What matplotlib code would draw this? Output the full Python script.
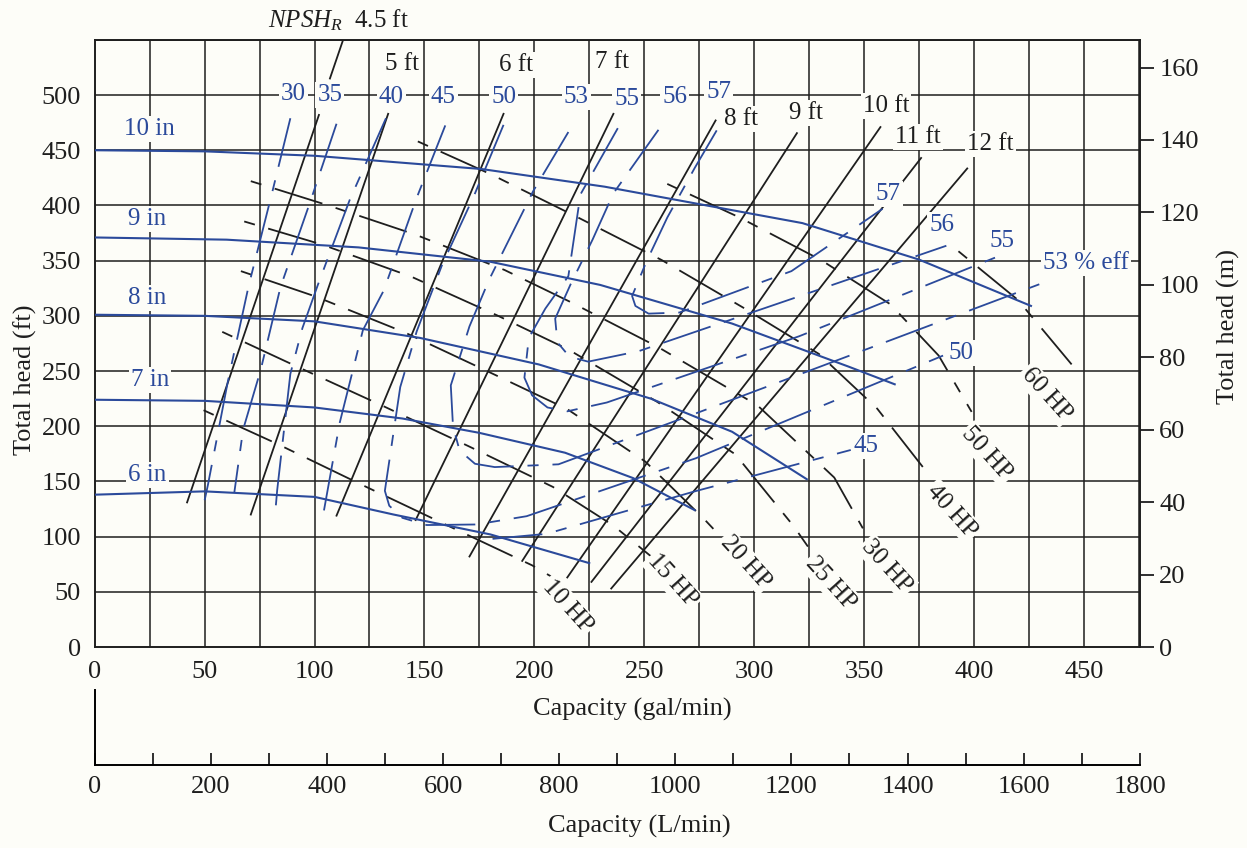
import matplotlib
matplotlib.use('Agg')
import matplotlib.pyplot as plt

plt.rcParams['font.family'] = ['Liberation Serif', 'DejaVu Serif']
plt.rcParams['mathtext.fontset'] = 'custom'
plt.rcParams['mathtext.rm'] = 'Liberation Serif'
plt.rcParams['mathtext.it'] = 'Liberation Serif:italic'
plt.rcParams['lines.scale_dashes'] = False

BLUE = '#2b4a9b'
INK = '#1e1e1e'
BG = '#fdfdf8'

# ---------------- data (capacity gal/min, head ft) ----------------
diam_labels = ['10 in', '9 in', '8 in', '7 in', '6 in']
q_10in = [0, 50, 100, 176, 232, 322, 375, 426]
h_10in = [450, 449, 445, 433, 417, 384, 351, 309]
q_9in = [0, 60, 120, 180, 230, 290, 343, 364]
h_9in = [371, 369, 362, 349, 328, 293, 254, 238]
q_8in = [0, 50, 100, 148, 202, 253, 290, 324]
h_8in = [301, 300, 295, 280, 256, 225, 195, 152]
q_7in = [0, 50, 100, 140, 175, 214, 245, 273]
h_7in = [224, 223, 217, 207, 194, 176, 153, 124]
q_6in = [0, 50, 100, 136, 180, 225]
h_6in = [138, 141, 136, 120, 102, 76]
diam_label_q = [25, 24, 24, 25, 24]
diam_label_h = [469, 388, 316, 242, 156]

# efficiency contours (%)
eff_levels = ['30', '35', '40', '45', '50', '53', '55', '56', '57']
q_e30 = [89, 80.5, 70, 60.5, 51.5, 50]
h_e30 = [479, 410, 327, 240, 147, 133]
q_e35 = [110, 98.5, 84.5, 75.5, 67.5, 63.5]
h_e35 = [474, 406, 326, 251, 197, 140]
q_e40 = [132.5, 116, 101.5, 94.5, 89, 83, 82]
h_e40 = [479, 405, 328, 289, 247.5, 142, 119]
q_e45_left = [159.5, 146.5, 131.5, 122, 111.5, 104]
h_e45_left = [472.5, 407, 323, 287, 203.5, 120.5]
q_e45_right = [181, 205.5, 273, 344]
h_e45_right = [98, 102.5, 141, 178.5]
q_e50 = [186, 172.5, 158, 146.5, 139, 132, 134, 140, 151, 173.5, 196.5, 273.5, 386]
h_e50 = [473, 408.5, 346, 286, 235.5, 141.5, 128, 117, 110.5, 111, 118.5, 171, 264]
q_e53 = [215.5, 199.5, 179.5, 170.5, 162, 163, 166, 173, 182, 211, 274, 433]
h_e53 = [466.5, 413, 333, 290.5, 237, 200, 178, 166, 163, 165.5, 212, 331]
q_e55 = [238, 221, 215.5, 205, 197.5, 195.5, 199, 206, 215, 233, 320.5, 410]
h_e55 = [470, 410, 336, 306.5, 280, 244, 228, 217, 213.5, 221.5, 281.5, 353]
q_e56 = [256.5, 236, 226.5, 216.5, 209.5, 210.5, 216, 224.5, 247.5, 321, 387.5]
h_e56 = [468.5, 411, 369, 328.5, 297.5, 276, 263, 258.5, 268, 318, 363.5]
q_e57 = [283, 273, 260.5, 251, 244.5, 246, 252, 266, 317, 358.5]
h_e57 = [468, 434, 389, 349, 318, 309, 302, 303, 340.5, 397]
eff_top_label_q = [90.5, 107, 135, 158.5, 186, 219, 242, 264, 284]
eff_top_label_h = [501, 500, 498.5, 498, 498, 498, 496.5, 498, 503]
eff_side_labels = ['57', '56', '55', '53 % eff', '50', '45']
eff_side_label_q = [361, 385.5, 413, 451, 394, 351]
eff_side_label_h = [410.5, 382, 368, 348, 266, 182.5]

# brake horsepower lines
hp_labels = ['10 HP', '15 HP', '20 HP', '25 HP', '30 HP', '40 HP', '50 HP', '60 HP']
q_hp10 = [49.5, 82.5, 122, 158.5, 199, 208]
h_hp10 = [214.5, 184.5, 146.5, 112, 74, 63.5]
q_hp15 = [58, 91.5, 131, 170, 208.5, 236, 253.5]
h_hp15 = [285.5, 254.5, 218.5, 182, 145, 110, 81.5]
q_hp20 = [66.5, 100.5, 141, 179, 215, 250.5, 277, 286]
h_hp20 = [340.5, 317.5, 285, 249.5, 215.5, 168, 116.5, 97.5]
q_hp25 = [68, 103.5, 144, 183, 215.5, 256, 291.5, 318, 324.5]
h_hp25 = [385.5, 364.5, 335.5, 300.5, 269.5, 222, 174.5, 109.5, 91]
q_hp30 = [71, 105.5, 146, 186.5, 216.5, 256.5, 301.5, 336.5, 349.5]
h_hp30 = [422, 400.5, 373.5, 341.5, 312.5, 271.5, 219, 153.5, 107.5]
q_hp40 = [147, 180.5, 220, 258, 295, 329.5, 356, 378]
h_hp40 = [458, 428, 389, 350.5, 307.5, 265.5, 216, 160]
q_hp50 = [260.5, 293.5, 330.5, 362, 384, 399]
h_hp50 = [419.5, 389, 350.5, 310.5, 264, 213]
q_hp60 = [393, 420, 444.5]
h_hp60 = [358.5, 314.5, 256]
hp_label_q = [215, 263, 296, 335, 360.5, 390, 406, 433]
hp_label_h = [37, 60, 77, 58, 73, 123, 175, 229]

# NPSH_R lines (ft)
npsh_labels = ['5 ft', '6 ft', '7 ft', '8 ft', '9 ft', '10 ft', '11 ft', '12 ft']
npsh_q_low = [42, 71, 110, 146, 170.5, 194.5, 215, 226, 235]
npsh_h_low = [131, 120, 119, 115, 82, 78, 63, 59, 53]
npsh_q_high = [102, 133.5, 186, 236, 282.5, 319.5, 357.5, 376, 397]
npsh_h_high = [482, 483, 483, 483, 477, 465.5, 471, 443, 433.5]
npsh_leader_q = [107, 113]
npsh_leader_h = [515, 550]
npsh_label_q = [140, 191.5, 235.5, 294, 323.5, 360, 374.5, 407.5]
npsh_label_h = [528, 527, 529.5, 478, 483.5, 490, 462, 455.5]

x_gpm_ticks = list(range(0, 451, 50))
y_ft_ticks = list(range(0, 501, 50))
y_m_ticks = list(range(0, 161, 20))
x_lpm_ticks = list(range(0, 1801, 200))

# ---------------- figure ----------------
fig = plt.figure(figsize=(12.47, 8.48), dpi=100, facecolor=BG)
ax = fig.add_axes([0.076, 0.237, 0.838, 0.716], facecolor=BG)
ax.set_xlim(0, 475.5)
ax.set_ylim(0, 550)

for x in range(25, 476, 25):
    ax.axvline(x, color=INK, lw=1.1, zorder=1)
for y in range(50, 551, 50):
    ax.axhline(y, color=INK, lw=1.1, zorder=1)

ax.set_xticks(x_gpm_ticks)
ax.set_yticks(y_ft_ticks)
ax.tick_params(axis='both', length=0, labelsize=19, colors=INK, pad=10)
for s in ax.spines.values():
    s.set_color(INK)
    s.set_linewidth(1.4)

# right axis in metres
axr = ax.twinx()
axr.set_ylim(0, 550 * 0.3048)
axr.set_yticks(y_m_ticks)
axr.tick_params(axis='y', direction='out', length=10, width=1.3, labelsize=19,
                colors=INK, pad=4)
for s in axr.spines.values():
    s.set_visible(False)

fig.text(0.507, 0.163, 'Capacity (gal/min)', fontsize=19, color=INK, ha='center', va='center')
fig.text(0.513, 0.025, 'Capacity (L/min)', fontsize=19, color=INK, ha='center', va='center')
fig.text(0.020, 0.552, 'Total head (ft)', fontsize=19, color=INK, ha='center', va='center',
         rotation=90)
fig.text(0.985, 0.615, 'Total head (m)', fontsize=19, color=INK, ha='center', va='center',
         rotation=90)

bbox_w = dict(facecolor=BG, edgecolor='none', pad=1.5)

# head curves
heads = [(q_10in, h_10in), (q_9in, h_9in), (q_8in, h_8in), (q_7in, h_7in), (q_6in, h_6in)]
for (q, h), lab, lq, lh in zip(heads, diam_labels, diam_label_q, diam_label_h):
    ax.plot(q, h, color=BLUE, lw=1.5, zorder=3)
    ax.text(lq, lh, lab, color=BLUE, fontsize=18, ha='center', va='center',
            bbox=bbox_w, zorder=6)

# efficiency contours
eff_dash = (0, (36, 10, 8, 10))
effs = [(q_e30, h_e30), (q_e35, h_e35), (q_e40, h_e40), (q_e45_left, h_e45_left),
        (q_e45_right, h_e45_right), (q_e50, h_e50), (q_e53, h_e53), (q_e55, h_e55),
        (q_e56, h_e56), (q_e57, h_e57)]
for (q, h) in effs:
    ax.plot(q, h, color=BLUE, lw=1.3, linestyle=eff_dash, zorder=3)
for lab, lq, lh in zip(eff_levels, eff_top_label_q, eff_top_label_h):
    ax.text(lq, lh, lab, color=BLUE, fontsize=18, ha='center', va='center',
            bbox=bbox_w, zorder=6)
for lab, lq, lh in zip(eff_side_labels, eff_side_label_q, eff_side_label_h):
    ax.text(lq, lh, lab, color=BLUE, fontsize=18, ha='center', va='center',
            bbox=bbox_w, zorder=6)

# horsepower lines
hp_dash = (0, (8, 10, 36, 10))
hps = [(q_hp10, h_hp10), (q_hp15, h_hp15), (q_hp20, h_hp20), (q_hp25, h_hp25),
       (q_hp30, h_hp30), (q_hp40, h_hp40), (q_hp50, h_hp50), (q_hp60, h_hp60)]
for (q, h) in hps:
    ax.plot(q, h, color=INK, lw=1.3, linestyle=hp_dash, zorder=2)
for lab, lq, lh in zip(hp_labels, hp_label_q, hp_label_h):
    ax.text(lq, lh, lab, color=INK, fontsize=18, ha='center', va='center',
            rotation=-48, rotation_mode='anchor', bbox=bbox_w, zorder=6)

# NPSH lines
for ql, hl, qh, hh in zip(npsh_q_low, npsh_h_low, npsh_q_high, npsh_h_high):
    ax.plot([ql, qh], [hl, hh], color=INK, lw=1.3, zorder=2)
ax.plot(npsh_leader_q, npsh_leader_h, color=INK, lw=1.3, zorder=2)
for lab, lq, lh in zip(npsh_labels, npsh_label_q, npsh_label_h):
    ax.text(lq, lh, lab, color=INK, fontsize=18, ha='center', va='center',
            bbox=bbox_w, zorder=6)
ax.text(111, 568, r'$NPSH_R$  4.5 ft', color=INK, fontsize=18, ha='center',
        va='center', clip_on=False)

# secondary capacity scale (L/min)
ax2 = fig.add_axes([0.076, 0.098, 0.838, 0.088], facecolor='none')
ax2.set_xlim(0, 1800)
ax2.set_ylim(0, 1)
ax2.set_xticks(x_lpm_ticks)
ax2.set_xticks(list(range(100, 1801, 200)), minor=True)
ax2.set_yticks([])
ax2.tick_params(axis='x', which='both', direction='in', length=9, width=1.3,
                labelsize=19, colors=INK, pad=8)
ax2.spines['top'].set_visible(False)
ax2.spines['right'].set_visible(False)
ax2.spines['left'].set_linewidth(1.4)
ax2.spines['bottom'].set_linewidth(1.4)

fig.savefig('out.png', dpi=100, facecolor=BG)
